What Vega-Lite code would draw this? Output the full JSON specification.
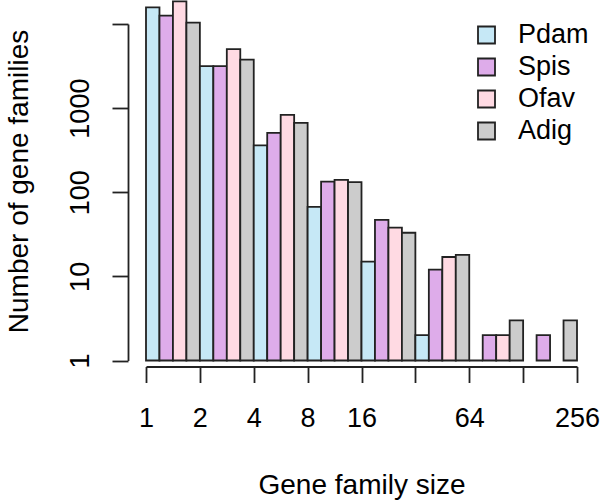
{
  "$schema": "https://vega.github.io/schema/vega-lite/v6.json",
  "width": 431,
  "height": 336.5,
  "autosize": "none",
  "padding": {"left": 146, "top": 24, "right": 23, "bottom": 139.5},
  "config": {"view": {"stroke": null}, "font": "Liberation Sans"},
  "layer": [
    {
      "data": {
        "values": [
          {"bin": "1", "sp": "Pdam", "n": 15800},
          {"bin": "1", "sp": "Spis", "n": 12600},
          {"bin": "1", "sp": "Ofav", "n": 18600},
          {"bin": "1", "sp": "Adig", "n": 10400},
          {"bin": "2", "sp": "Pdam", "n": 3150},
          {"bin": "2", "sp": "Spis", "n": 3150},
          {"bin": "2", "sp": "Ofav", "n": 5030},
          {"bin": "2", "sp": "Adig", "n": 3780},
          {"bin": "4", "sp": "Pdam", "n": 361},
          {"bin": "4", "sp": "Spis", "n": 507},
          {"bin": "4", "sp": "Ofav", "n": 830},
          {"bin": "4", "sp": "Adig", "n": 667},
          {"bin": "8", "sp": "Pdam", "n": 67},
          {"bin": "8", "sp": "Spis", "n": 134},
          {"bin": "8", "sp": "Ofav", "n": 140},
          {"bin": "8", "sp": "Adig", "n": 132},
          {"bin": "16", "sp": "Pdam", "n": 15},
          {"bin": "16", "sp": "Spis", "n": 47},
          {"bin": "16", "sp": "Ofav", "n": 38},
          {"bin": "16", "sp": "Adig", "n": 33},
          {"bin": "32", "sp": "Pdam", "n": 2},
          {"bin": "32", "sp": "Spis", "n": 12},
          {"bin": "32", "sp": "Ofav", "n": 17},
          {"bin": "32", "sp": "Adig", "n": 18},
          {"bin": "64", "sp": "Pdam", "n": 1},
          {"bin": "64", "sp": "Spis", "n": 2},
          {"bin": "64", "sp": "Ofav", "n": 2},
          {"bin": "64", "sp": "Adig", "n": 3},
          {"bin": "128", "sp": "Spis", "n": 2},
          {"bin": "128", "sp": "Adig", "n": 3}
        ]
      },
      "mark": {"type": "bar", "stroke": "#222", "strokeWidth": 1.8},
      "encoding": {
        "x": {
          "field": "bin", "type": "ordinal",
          "scale": {"domain": ["1", "2", "4", "8", "16", "32", "64", "128"], "paddingInner": 0, "paddingOuter": 0},
          "axis": null
        },
        "xOffset": {
          "field": "sp", "type": "nominal",
          "scale": {"domain": ["Pdam", "Spis", "Ofav", "Adig"], "paddingInner": 0, "paddingOuter": 0}
        },
        "y": {
          "field": "n", "type": "quantitative",
          "scale": {"type": "log", "domain": [1, 10000], "nice": false},
          "axis": {
            "values": [1, 10, 100, 1000, 10000],
            "format": "d",
            "labelExpr": "datum.value == 10000 ? '' : datum.label",
            "offset": 18,
            "grid": false,
            "tickSize": 16, "tickWidth": 1.8, "tickColor": "#222",
            "domainColor": "#222", "domainWidth": 1.8,
            "labelAngle": -90, "labelAlign": "center", "labelBaseline": "alphabetic",
            "labelPadding": 24, "labelFontSize": 27, "labelColor": "#000",
            "labelOverlap": false, "labelFlush": false,
            "title": "Number of gene families",
            "titleFontSize": 28, "titleFontWeight": "normal", "titleColor": "#000",
            "titleAngle": -90, "titleAlign": "center", "titleBaseline": "alphabetic",
            "titleX": -101, "titleY": 157
          }
        },
        "y2": {"datum": 1},
        "color": {
          "field": "sp", "type": "nominal",
          "scale": {"domain": ["Pdam", "Spis", "Ofav", "Adig"], "range": ["#C6E8F6", "#DEACEA", "#FFDAE3", "#CCCCCC"]},
          "legend": {
            "orient": "none", "legendX": 327, "legendY": -2.5,
            "title": null, "padding": 0,
            "symbolType": "square", "symbolSize": 289,
            "symbolStrokeColor": "#222", "symbolStrokeWidth": 1.8, "symbolOpacity": 1,
            "labelFontSize": 27, "labelOffset": 18, "labelColor": "#000",
            "rowPadding": 4
          }
        }
      }
    },
    {
      "data": {"values": [{"t": 1}, {"t": 2}, {"t": 4}, {"t": 8}, {"t": 16}, {"t": 32}, {"t": 64}, {"t": 128}, {"t": 256}]},
      "mark": {"type": "point", "opacity": 0},
      "encoding": {
        "x": {
          "field": "t", "type": "quantitative",
          "scale": {"type": "log", "base": 2, "domain": [1, 256], "nice": false},
          "axis": {
            "values": [1, 2, 4, 8, 16, 32, 64, 128, 256],
            "format": "d",
            "labelExpr": "(datum.value == 32 || datum.value == 128) ? '' : datum.label",
            "offset": 6,
            "grid": false,
            "tickSize": 16, "tickWidth": 1.8, "tickColor": "#222",
            "domainColor": "#222", "domainWidth": 1.8,
            "labelPadding": 23, "labelFontSize": 27, "labelColor": "#000",
            "labelOverlap": false, "labelFlush": false,
            "title": "Gene family size",
            "titleFontSize": 28, "titleFontWeight": "normal", "titleColor": "#000",
            "titleBaseline": "alphabetic", "titleY": 126.5
          }
        }
      }
    }
  ],
  "resolve": {"scale": {"x": "independent"}}
}
